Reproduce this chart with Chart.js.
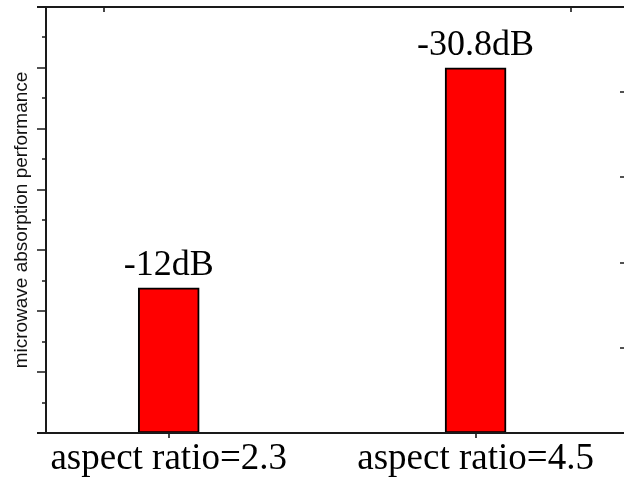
<!DOCTYPE html>
<html><head><meta charset="utf-8">
<script src="https://cdn.jsdelivr.net/npm/chart.js@4.4.0/dist/chart.umd.min.js"></script>
<style>html,body{margin:0;padding:0;overflow:hidden;background:#fff;width:624px;height:483px}canvas{display:block}</style>
</head><body>
<canvas id="c" width="640" height="483"></canvas>
<script>
// ---- data ----
const categories = ['aspect ratio=2.3', 'aspect ratio=4.5'];
const categoryPositions = [1, 2];
const absorption = [12, 30.8];            // |reflection loss| in dB
const valueLabels = ['-12dB', '-30.8dB'];
const yTitle = 'microwave absorption performance';
const yMin = -0.4, yMax = 36, yMajorStep = 5.2;
const xMin = 0.6, xMax = 2.5;
const topTickPositions = [0.79, 2.31];
const rightMin = 0, rightMax = 5, rightMajorStep = 1;

const INK = '#1a1a1a';

function halfStepTicks(min, max, step) {
  const out = [];
  const n = Math.round((max - min) / (step / 2));
  for (let i = 0; i <= n; i++) out.push({ value: min + i * step / 2, major: i % 2 === 0 });
  return out;
}

const framePlugin = {
  id: 'frame',
  afterDraw(chart) {
    const { ctx, chartArea: a, scales } = chart;
    const x = scales.x, y = scales.y, y2 = scales.y2;
    ctx.save();
    ctx.strokeStyle = INK;
    ctx.lineWidth = 2;
    ctx.beginPath();
    ctx.moveTo(a.left - 9, a.top); ctx.lineTo(a.right + 1, a.top);
    ctx.moveTo(a.left - 9, a.bottom); ctx.lineTo(a.right + 1, a.bottom);
    ctx.moveTo(a.left, a.top); ctx.lineTo(a.left, a.bottom);
    ctx.moveTo(a.right, a.top); ctx.lineTo(a.right, a.bottom);
    ctx.stroke();
    ctx.lineWidth = 1.6;
    ctx.beginPath();
    // left axis: outward ticks
    y.ticks.forEach(t => {
      const py = Math.round(y.getPixelForValue(t.value));
      const len = t.major ? 9 : 4;
      ctx.moveTo(a.left - len, py); ctx.lineTo(a.left, py);
    });
    // right axis: inward ticks
    y2.ticks.forEach(t => {
      const py = Math.round(y2.getPixelForValue(t.value));
      const len = t.major ? 9 : 4;
      ctx.moveTo(a.right - len, py); ctx.lineTo(a.right, py);
    });
    // bottom axis: outward ticks at categories
    x.ticks.forEach(t => {
      const px = Math.round(x.getPixelForValue(t.value));
      ctx.moveTo(px, a.bottom); ctx.lineTo(px, a.bottom + 5);
    });
    // top axis: inward ticks
    topTickPositions.forEach(v => {
      const px = Math.round(x.getPixelForValue(v));
      ctx.moveTo(px, a.top); ctx.lineTo(px, a.top + 5);
    });
    ctx.stroke();
    ctx.restore();
  }
};

const valueLabelPlugin = {
  id: 'valueLabels',
  afterDatasetsDraw(chart) {
    const { ctx } = chart;
    const meta = chart.getDatasetMeta(0);
    ctx.save();
    ctx.fillStyle = '#000';
    ctx.font = '36px "Liberation Serif", "Times New Roman", serif';
    ctx.textAlign = 'center';
    ctx.textBaseline = 'alphabetic';
    meta.data.forEach((el, i) => {
      ctx.fillText(valueLabels[i], el.x, el.y - 13);
    });
    ctx.restore();
  }
};

new Chart(document.getElementById('c'), {
  type: 'bar',
  data: {
    datasets: [{
      data: categoryPositions.map((p, i) => ({ x: p, y: absorption[i] })),
      base: yMin,
      backgroundColor: '#ff0000',
      borderColor: '#000',
      borderWidth: 2,
      borderSkipped: false,
      barThickness: 61
    }]
  },
  options: {
    responsive: false,
    animation: false,
    devicePixelRatio: 1,
    layout: { padding: { top: 7, right: 11, left: 0, bottom: 0 } },
    plugins: { legend: { display: false }, tooltip: { enabled: false } },
    scales: {
      x: {
        type: 'linear',
        min: xMin, max: xMax,
        offset: false,
        grid: { display: false, drawTicks: false, offset: false },
        border: { display: false },
        afterBuildTicks: s => { s.ticks = categoryPositions.map(v => ({ value: v })); },
        afterFit: s => { s.height = 50; },
        ticks: {
          autoSkip: false, maxRotation: 0, minRotation: 0,
          padding: 4,
          color: '#000',
          font: { family: '"Liberation Serif", "Times New Roman", serif', size: 37 },
          callback: v => { const i = categoryPositions.indexOf(v); return i >= 0 ? categories[i] : ''; }
        }
      },
      y: {
        type: 'linear',
        position: 'left',
        min: yMin, max: yMax,
        grid: { display: false },
        border: { display: false },
        afterBuildTicks: s => { s.ticks = halfStepTicks(yMin, yMax, yMajorStep); },
        afterFit: s => { s.width = 46; },
        ticks: { display: false },
        title: {
          display: true,
          text: yTitle,
          color: '#111',
          padding: { top: 10, bottom: 0 },
          font: { family: '"Liberation Sans", Arial, sans-serif', size: 19 }
        }
      },
      y2: {
        type: 'linear',
        position: 'right',
        display: false,
        min: rightMin, max: rightMax,
        afterBuildTicks: s => { s.ticks = halfStepTicks(rightMin, rightMax, rightMajorStep); }
      }
    }
  },
  plugins: [framePlugin, valueLabelPlugin]
});
</script>
</body></html>
